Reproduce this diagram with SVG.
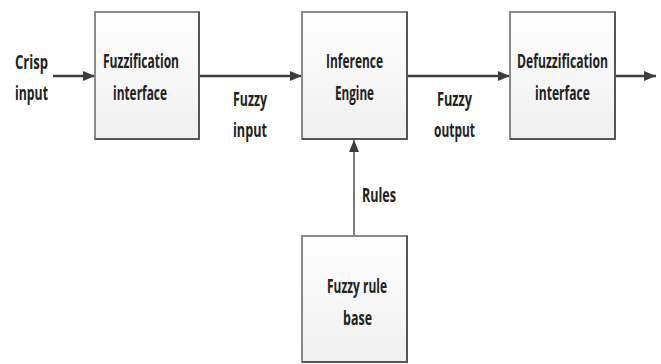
<svg xmlns="http://www.w3.org/2000/svg" width="661" height="364" viewBox="0 0 661 364">
<defs>
<linearGradient id="boxfill" x1="0" y1="0" x2="0" y2="1">
<stop offset="0" stop-color="#fefefe"/>
<stop offset="1" stop-color="#f0f0f0"/>
</linearGradient>
<marker id="arrow" markerWidth="12" markerHeight="10" refX="12" refY="5" orient="auto" markerUnits="userSpaceOnUse">
<path d="M0,0 L12,5 L0,10 Z" fill="#3d3d3d"/>
</marker>
</defs>
<style>
.box{fill:url(#boxfill);stroke:#8a8a8a;stroke-width:2}
.shadow{fill:none;stroke:#555;stroke-width:2}
.lbl{font-family:"Open Sans","Liberation Sans",sans-serif;font-weight:700;font-size:19px;fill:#222}
.conn{stroke:#3d3d3d;stroke-width:2.5;fill:none}
.conn2{stroke:#555;stroke-width:1.5;fill:none}
</style>
<rect width="661" height="364" fill="#ffffff"/>
<g id="connectors">
<line class="conn" x1="53" y1="76" x2="95" y2="76" marker-end="url(#arrow)"/>
<line class="conn" x1="200" y1="76" x2="302" y2="76" marker-end="url(#arrow)"/>
<line class="conn" x1="408" y1="76" x2="510" y2="76" marker-end="url(#arrow)"/>
<line class="conn" x1="616" y1="76" x2="656" y2="76" marker-end="url(#arrow)"/>
<line class="conn2" x1="354" y1="236" x2="354" y2="140" marker-end="url(#arrow)"/>
<text class="lbl" x="15" y="69" textLength="33" lengthAdjust="spacingAndGlyphs">Crisp</text>
<text class="lbl" x="15" y="100" textLength="33" lengthAdjust="spacingAndGlyphs">input</text>
<text class="lbl" x="233" y="106" textLength="34" lengthAdjust="spacingAndGlyphs">Fuzzy</text>
<text class="lbl" x="233" y="137" textLength="34" lengthAdjust="spacingAndGlyphs">input</text>
<text class="lbl" x="437" y="106" textLength="35" lengthAdjust="spacingAndGlyphs">Fuzzy</text>
<text class="lbl" x="434" y="137" textLength="41" lengthAdjust="spacingAndGlyphs">output</text>
<text class="lbl" x="362" y="202" textLength="34" lengthAdjust="spacingAndGlyphs">Rules</text>
</g>
<g id="fuzzification">
<rect class="box" x="95" y="12" width="104" height="127"/>
<path class="shadow" d="M95,139 H199 V12"/>
<text class="lbl" x="103" y="68" textLength="76" lengthAdjust="spacingAndGlyphs">Fuzzification</text>
<text class="lbl" x="113" y="100" textLength="54" lengthAdjust="spacingAndGlyphs">interface</text>
</g>
<g id="inference">
<rect class="box" x="302" y="12" width="105" height="127"/>
<path class="shadow" d="M302,139 H407 V12"/>
<text class="lbl" x="326" y="68" textLength="57" lengthAdjust="spacingAndGlyphs">Inference</text>
<text class="lbl" x="335" y="100" textLength="39" lengthAdjust="spacingAndGlyphs">Engine</text>
</g>
<g id="defuzzification">
<rect class="box" x="510" y="12" width="105" height="127"/>
<path class="shadow" d="M510,139 H615 V12"/>
<text class="lbl" x="517" y="68" textLength="91" lengthAdjust="spacingAndGlyphs">Defuzzification</text>
<text class="lbl" x="535" y="100" textLength="55" lengthAdjust="spacingAndGlyphs">interface</text>
</g>
<g id="rulebase">
<rect class="box" x="302" y="236" width="105" height="126"/>
<path class="shadow" d="M302,362 H407 V236"/>
<text class="lbl" x="327" y="293" textLength="60" lengthAdjust="spacingAndGlyphs">Fuzzy rule</text>
<text class="lbl" x="343" y="325" textLength="29" lengthAdjust="spacingAndGlyphs">base</text>
</g>
</svg>
